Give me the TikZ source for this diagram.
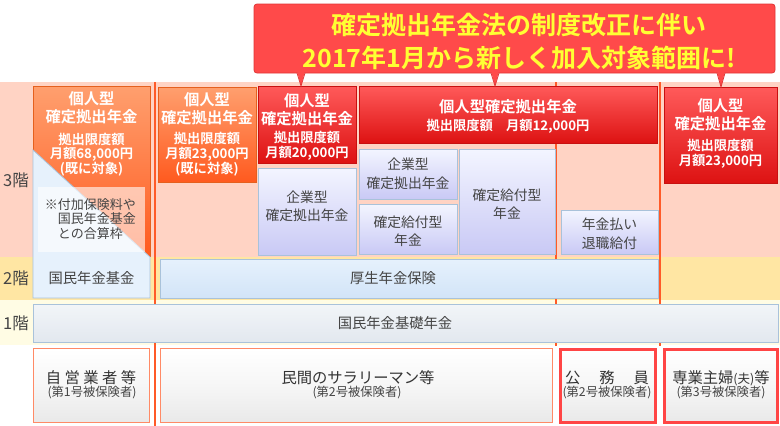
\documentclass[tikz,border=0pt]{standalone}
\usepackage{fontspec}
\setmainfont{Noto Sans CJK JP}[BoldFont={Noto Sans CJK JP Bold}]
\definecolor{bandA}{HTML}{FFD3C4}
\definecolor{bandB}{HTML}{FFE6A3}
\definecolor{bandC}{HTML}{FFFCE4}
\definecolor{vline}{HTML}{FF5A28}
\definecolor{orT}{HTML}{FF9F6E}
\definecolor{orB}{HTML}{FF5A1F}
\definecolor{orD}{HTML}{E5601E}
\definecolor{rdT}{HTML}{FF5A5A}
\definecolor{rdB}{HTML}{DD1212}
\definecolor{rdD}{HTML}{C81010}
\definecolor{lvT}{HTML}{F3F5FF}
\definecolor{lvB}{HTML}{C9C9F5}
\definecolor{lvD}{HTML}{A9C2DA}
\definecolor{blT}{HTML}{E6F1FC}
\definecolor{blB}{HTML}{D2E4F8}
\definecolor{gyT}{HTML}{F2F5F8}
\definecolor{gyB}{HTML}{E2E8EF}
\definecolor{txg}{HTML}{444444}
\definecolor{banF}{HTML}{FF4A4A}
\definecolor{banD}{HTML}{E03636}
\definecolor{banT}{HTML}{FFFF33}
\definecolor{pbD}{HTML}{FF8A66}
\definecolor{pbR}{HTML}{FF4545}
\definecolor{pbG}{HTML}{E9E9E9}
\begin{document}
\begin{tikzpicture}[x=1pt,y=-1pt,
  every node/.style={inner sep=0pt,outer sep=0pt},
  box/.style={rectangle,anchor=north west,line width=0.8pt},
  orangebox/.style={box,draw=orD,top color=orT,bottom color=orB},
  redbox/.style={box,draw=rdD,top color=rdT,bottom color=rdB},
  lavbox/.style={box,draw=lvD,top color=lvT,bottom color=lvB},
  bluebox/.style={box,draw=lvD,top color=blT,bottom color=blB},
  greybox/.style={box,draw=lvD,top color=gyT,bottom color=gyB},
  personbox/.style={box,draw=pbD,line width=0.9pt,top color=white,bottom color=pbG,middle color=white!60!pbG},
  personred/.style={box,draw=pbR,line width=3pt,top color=white,bottom color=pbG,middle color=white!60!pbG},
  wtitle/.style={text=white,align=center,font=\fontsize{15.3}{18}\selectfont\bfseries},
  wlimit/.style={text=white,align=center,font=\fontsize{13.3}{14.8}\selectfont\bfseries},
  gtext/.style={text=txg,align=center,font=\fontsize{13.8}{18.5}\selectfont},
  floor/.style={text=txg,font=\fontsize{16.5}{18}\selectfont},
  ptext/.style={text=black!80,align=center,font=\fontsize{15.3}{18}\selectfont},
  psub/.style={text=txg,align=center,font=\fontsize{12.3}{14}\selectfont},
  ptr/.style={fill=banF,draw=banD,line width=0.8pt}
]
\useasboundingbox (0,0) rectangle (780,426);
\fill[white] (0,0) rectangle (780,426);
% bands
\fill[bandA] (0,82) rectangle (780,257);
\fill[bandB] (0,257) rectangle (780,300);
\fill[bandC] (0,300) rectangle (780,345);
% floor labels
\node[floor] (f3) at (16,180) {3階};
\node[floor] (f2) at (16,278) {2階};
\node[floor] (f1) at (16,323) {1階};
% vertical lines
\draw[vline,line width=1.2pt] (155,82) -- (155,426);
\draw[vline,line width=1.2pt] (556,82) -- (556,346);
\draw[vline,line width=1.2pt] (660,82) -- (660,346);
% column 1
\node[orangebox,minimum width=117pt,minimum height=170pt] (o1) at (33,86) {};
\filldraw[fill=blT,draw=lvD,line width=0.8pt] (33,150) -- (150,257) -- (150,298) -- (33,298) -- cycle;
\node[wtitle] (o1t) at (91.5,108) {個人型\\確定拠出年金};
\node[wlimit] (o1l) at (91.5,154.5) {拠出限度額\\月額68,000円\\(既に対象)};
\node[box,fill=white,fill opacity=0.6,minimum width=107pt,minimum height=65pt] (note) at (38,187) {};
\node[anchor=west,align=left,text=txg,font=\fontsize{13}{14.2}\selectfont] (notet) at (45,219) {※付加保険料や\\\hphantom{※}国民年金基金\\\hphantom{※}との合算枠};
\node[gtext,font=\fontsize{14.3}{18}\selectfont] (kkk) at (91.5,278) {国民年金基金};
% column 2
\node[orangebox,minimum width=98pt,minimum height=95pt] (o2) at (158,87) {};
\node[wtitle] (o2t) at (207,108.5) {個人型\\確定拠出年金};
\node[wlimit] (o2l) at (207,154) {拠出限度額\\月額23,000円\\(既に対象)};
% column 3
\node[redbox,minimum width=98pt,minimum height=77pt] (r1) at (258,86) {};
\node[wtitle] (r1t) at (307,110) {個人型\\確定拠出年金};
\node[wlimit] (r1l) at (307,145.5) {拠出限度額\\月額20,000円};
\node[lavbox,minimum width=98pt,minimum height=87pt] (c1) at (258,168) {};
\node[gtext] (c1t) at (307,206.5) {企業型\\確定拠出年金};
% column 4 & 5
\node[redbox,minimum width=298pt,minimum height=57pt] (r2) at (359,86) {};
\node[wtitle] (r2t) at (508,107) {個人型確定拠出年金};
\node[wlimit] (r2l) at (508,126) {拠出限度額\hspace{13pt}月額12,000円};
\node[lavbox,minimum width=98pt,minimum height=50pt] (c2) at (359,149) {};
\node[gtext] (c2t) at (408,174) {企業型\\確定拠出年金};
\node[lavbox,minimum width=98pt,minimum height=50pt] (d1) at (359,204) {};
\node[gtext] (d1t) at (408,231) {確定給付型\\年金};
\node[lavbox,minimum width=96pt,minimum height=105pt] (d2) at (459,149) {};
\node[gtext] (d2t) at (507,204) {確定給付型\\年金};
\node[lavbox,minimum width=97pt,minimum height=44pt] (n1) at (561,210) {};
\node[gtext] (n1t) at (609.5,233.5) {年金払い\\退職給付};
% column 6
\node[redbox,minimum width=113pt,minimum height=96pt] (r3) at (664,87) {};
\node[wtitle] (r3t) at (720.5,115) {個人型\\確定拠出年金};
\node[wlimit] (r3l) at (720.5,154) {拠出限度額\\月額23,000円};
% floor 2
\node[bluebox,minimum width=498pt,minimum height=39pt] (kosei) at (160,259) {};
\node[gtext,font=\fontsize{14.3}{18}\selectfont] (koseit) at (393,278) {厚生年金保険};
% floor 1
\node[greybox,minimum width=745pt,minimum height=38pt] (kiso) at (33,304) {};
\node[gtext,font=\fontsize{14.3}{18}\selectfont] (kisot) at (395,323) {国民年金基礎年金};
% bottom persons
\node[personbox,minimum width=116pt,minimum height=74pt] (p1) at (33,348) {};
\node[ptext] (p1t) at (91,378) {自 営 業 者 等};
\node[psub] (p1s) at (92,393) {(第1号被保険者)};
\node[personbox,minimum width=392pt,minimum height=74pt] (p2) at (160,348) {};
\node[ptext] (p2t) at (358,378) {民間のサラリーマン等};
\node[psub] (p2s) at (357,393) {(第2号被保険者)};
\node[personred,minimum width=95pt,minimum height=73pt] (p3) at (560,349) {};
\node[ptext] (p3t) at (607,378) {公\hspace{19pt}務\hspace{19pt}員};
\node[psub] (p3s) at (607,393) {(第2号被保険者)};
\node[personred,minimum width=113pt,minimum height=73pt] (p4) at (664,349) {};
\node[ptext] (p4t) at (721,378) {専業主婦{\fontsize{12.5}{14}\selectfont(夫)}等};
\node[psub] (p4s) at (721,393) {(第3号被保険者)};
% banner
\node[box,fill=banF,draw=banD,rounded corners=3pt,minimum width=521pt,minimum height=69pt] (ban) at (254,4) {};
\node[text=banT,align=center,font=\fontsize{25}{33}\selectfont\bfseries] (bant) at (519,41) {確定拠出年金法の制度改正に伴い\\2017年1月から新しく加入対象範囲に!};
% pointers
\coordinate (q1) at (301,86);
\coordinate (q2) at (495,86);
\coordinate (q3) at (721,87);
\foreach \q in {q1,q2,q3}{
  \fill[banF] (\q) -- ([xshift=-4pt,yshift=2pt]\q |- ban.south) -- ([xshift=4pt,yshift=2pt]\q |- ban.south) -- cycle;
  \draw[banD,line width=0.8pt] ([xshift=-4pt]\q |- ban.south) -- (\q) -- ([xshift=4pt]\q |- ban.south);
}
\end{tikzpicture}
\end{document}
